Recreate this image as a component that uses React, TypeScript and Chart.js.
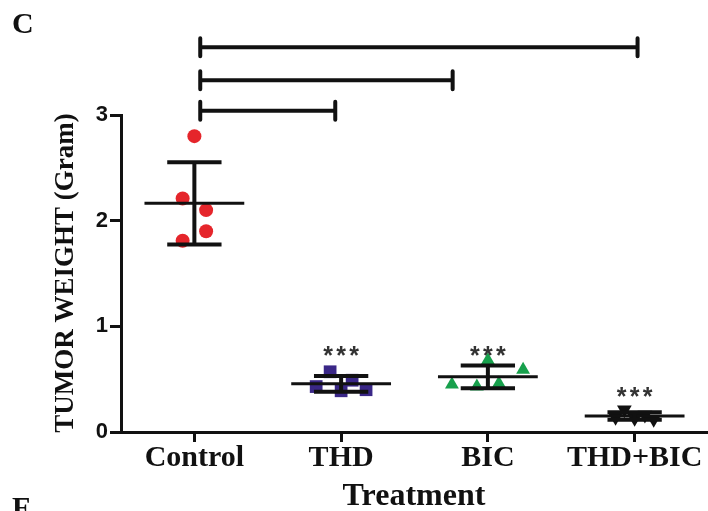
import { useEffect, useRef } from "react";
import { Chart, registerables } from "chart.js";

Chart.register(...registerables);

// ---- data ----
const categories = ["Control", "THD", "BIC", "THD+BIC"];
const controlValues = [2.8, 2.21, 2.1, 1.9, 1.81];
const thdValues = [0.57, 0.43, 0.39, 0.49, 0.4];
const bicValues = [0.45, 0.43, 0.68, 0.46, 0.59];
const comboValues = [0.14, 0.21, 0.13, 0.16, 0.12];
// horizontal scatter (jitter) of each point within its group, in category units
const controlJitter = [0, -0.08, 0.08, 0.08, -0.08];
const thdJitter = [-0.075, -0.17, 0, 0.075, 0.17];
const bicJitter = [-0.245, -0.075, 0, 0.075, 0.24];
const comboJitter = [-0.13, -0.07, 0, 0.07, 0.13];
const yTicks = [0, 1, 2, 3];
const significance = ["", "***", "***", "***"];
const starLevels = [0, 0.79, 0.79, 0.4];
// comparison brackets: Control vs THD / BIC / THD+BIC
const bracketStarts = [0.04, 0.04, 0.04];
const bracketEnds = [0.96, 1.76, 3.02];
const bracketLevels = [3.04, 3.33, 3.64];

const groups = [controlValues, thdValues, bicValues, comboValues];

const W = 708;
const H = 511;

function meanOf(a: number[]) {
  return a.reduce((s, v) => s + v, 0) / a.length;
}
function sdOf(a: number[]) {
  const m = meanOf(a);
  return Math.sqrt(a.reduce((s, v) => s + (v - m) * (v - m), 0) / (a.length - 1));
}

const SERIF = '"Liberation Serif", "Times New Roman", serif';
const SANS = '"Liberation Sans", Arial, sans-serif';

const overlayPlugin = {
  id: "overlay",
  afterDatasetsDraw(chart: any) {
    const { ctx, scales } = chart;
    const x = scales.x;
    const y = scales.y;
    ctx.save();
    ctx.strokeStyle = "#111";
    groups.forEach((vals, i) => {
      const m = meanOf(vals);
      const sd = sdOf(vals);
      const cx = x.getPixelForValue(i);
      const ym = y.getPixelForValue(m);
      const yt = y.getPixelForValue(m + sd);
      const yb = y.getPixelForValue(m - sd);
      ctx.lineWidth = 3;
      ctx.beginPath();
      ctx.moveTo(x.getPixelForValue(i - 0.34), ym);
      ctx.lineTo(x.getPixelForValue(i + 0.34), ym);
      ctx.stroke();
      ctx.lineWidth = 4;
      ctx.beginPath();
      ctx.moveTo(cx, yt);
      ctx.lineTo(cx, yb);
      ctx.moveTo(x.getPixelForValue(i - 0.185), yt);
      ctx.lineTo(x.getPixelForValue(i + 0.185), yt);
      ctx.moveTo(x.getPixelForValue(i - 0.185), yb);
      ctx.lineTo(x.getPixelForValue(i + 0.185), yb);
      ctx.stroke();
    });
    ctx.restore();
  },
  afterDraw(chart: any) {
    const { ctx, scales } = chart;
    const x = scales.x;
    const y = scales.y;
    ctx.save();
    ctx.strokeStyle = "#111";
    ctx.lineWidth = 4;
    bracketLevels.forEach((lv, k) => {
      const yy = y.getPixelForValue(lv);
      const x0 = x.getPixelForValue(bracketStarts[k]);
      const x1 = x.getPixelForValue(bracketEnds[k]);
      ctx.lineCap = "butt";
      ctx.beginPath();
      ctx.moveTo(x0, yy);
      ctx.lineTo(x1, yy);
      ctx.stroke();
      ctx.lineCap = "round";
      ctx.beginPath();
      ctx.moveTo(x0, yy - 9);
      ctx.lineTo(x0, yy + 9);
      ctx.moveTo(x1, yy - 9);
      ctx.lineTo(x1, yy + 9);
      ctx.stroke();
    });
    ctx.fillStyle = "#333";
    ctx.font = `bold 25px ${SANS}`;
    ctx.textAlign = "center";
    ctx.textBaseline = "alphabetic";
    significance.forEach((s, i) => {
      if (!s) return;
      const cx = x.getPixelForValue(i);
      const base = y.getPixelForValue(starLevels[i]) + 15;
      const n = s.length;
      for (let k = 0; k < n; k++) {
        ctx.fillText("*", cx + (k - (n - 1) / 2) * 13, base);
      }
    });
    ctx.fillStyle = "#111";
    ctx.font = `bold 32px ${SERIF}`;
    ctx.textAlign = "center";
    ctx.fillText("Treatment", 414, 505);
    ctx.save();
    ctx.translate(73, 273);
    ctx.rotate(-Math.PI / 2);
    ctx.font = `bold 27px ${SERIF}`;
    ctx.fillText("TUMOR WEIGHT (Gram)", 0, 0);
    ctx.restore();
    ctx.font = `bold 30px ${SERIF}`;
    ctx.textAlign = "left";
    ctx.fillText("C", 12, 33);
    ctx.fillText("F", 12, 517);
    ctx.restore();
  },
};

function makeChart(canvas: HTMLCanvasElement) {
  const mk = (vals: number[], jit: number[], i: number) =>
    vals.map((v, k) => ({ x: i + jit[k], y: v }));
  return new Chart(canvas, {
    type: "scatter",
    data: {
      datasets: [
        {
          label: categories[0],
          data: mk(controlValues, controlJitter, 0),
          pointStyle: "circle",
          pointRadius: 7,
          backgroundColor: "#e5252b",
          borderColor: "#e5252b",
          borderWidth: 0,
        },
        {
          label: categories[1],
          data: mk(thdValues, thdJitter, 1),
          pointStyle: "rect",
          pointRadius: 9,
          backgroundColor: "#3a2787",
          borderColor: "#3a2787",
          borderWidth: 0,
        },
        {
          label: categories[2],
          data: mk(bicValues, bicJitter, 2),
          pointStyle: "triangle",
          pointRadius: 8,
          backgroundColor: "#17a04c",
          borderColor: "#17a04c",
          borderWidth: 0,
        },
        {
          label: categories[3],
          data: mk(comboValues, comboJitter, 3),
          pointStyle: "triangle",
          rotation: 180,
          pointRadius: 8.5,
          backgroundColor: "#111",
          borderColor: "#111",
          borderWidth: 0,
        },
      ] as any,
    },
    options: {
      responsive: false,
      animation: false,
      layout: { padding: { top: 115, left: 0, right: 0, bottom: 0 } },
      plugins: { legend: { display: false }, tooltip: { enabled: false } },
      scales: {
        x: {
          type: "linear",
          min: -0.5,
          max: 3.5,
          afterBuildTicks: (s: any) => {
            s.ticks = categories.map((_, i) => ({ value: i }));
          },
          afterFit: (s: any) => {
            s.height = 79;
            s.paddingLeft = 0;
            s.paddingRight = 0;
          },
          ticks: {
            callback: (v: any) => categories[v as number] ?? "",
            font: { family: SERIF, size: 30, weight: "bold" },
            color: "#111",
            padding: -2,
            maxRotation: 0,
            autoSkip: false,
          },
          grid: { drawOnChartArea: false, drawTicks: true, tickLength: 10, color: "#111", lineWidth: 3 },
          border: { display: true, color: "#111", width: 3 },
        },
        y: {
          type: "linear",
          min: 0,
          max: 3,
          afterBuildTicks: (s: any) => {
            s.ticks = yTicks.map((v) => ({ value: v }));
          },
          afterFit: (s: any) => {
            s.width = 121;
          },
          ticks: {
            font: { family: SANS, size: 22, weight: "bold" },
            color: "#111",
            padding: 2,
          },
          grid: { drawOnChartArea: false, drawTicks: true, tickLength: 11, color: "#111", lineWidth: 3 },
          border: { display: true, color: "#111", width: 3 },
        },
      },
    } as any,
    plugins: [overlayPlugin],
  });
}

export default function App() {
  const ref = useRef<HTMLCanvasElement | null>(null);
  useEffect(() => {
    const canvas = ref.current;
    if (!canvas) return;
    let chart = makeChart(canvas);
    // Chart.js keeps a small right-hand reserve; widen the canvas (clipped by the
    // wrapper) so that the plot area reaches the right edge like the original.
    const slack = W - (chart.chartArea?.right ?? W);
    if (slack > 0.5) {
      chart.destroy();
      const newW = Math.round(W + slack);
      canvas.width = newW;
      canvas.height = H;
      canvas.style.width = `${newW}px`;
      canvas.style.height = `${H}px`;
      chart = makeChart(canvas);
    }
    return () => chart.destroy();
  }, []);
  return (
    <div style={{ position: "absolute", left: 0, top: 0, width: W, height: H, overflow: "hidden", background: "#fff" }}>
      <div style={{ width: 760, height: H }}>
        <canvas ref={ref} width={W} height={H} style={{ display: "block", width: W, height: H }} />
      </div>
    </div>
  );
}
